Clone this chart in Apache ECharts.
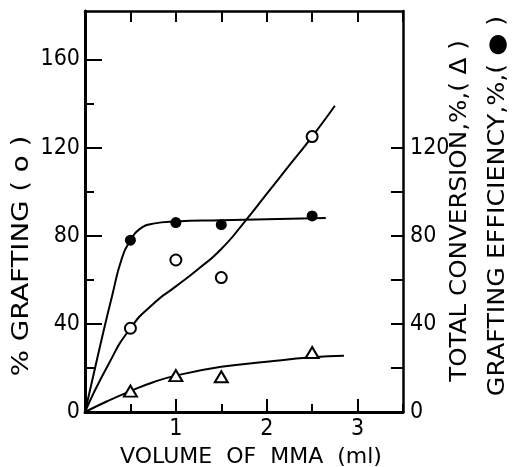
<!DOCTYPE html>
<html>
<head>
<meta charset="utf-8">
<script src="https://cdn.jsdelivr.net/npm/echarts@6/dist/echarts.min.js"></script>
<style>
html, body { margin: 0; padding: 0; background: #fff; }
#main { width: 515px; height: 467px; }
</style>
</head>
<body>
<div id="main"></div>
<script>
// measured points
var volume = [0.5, 1, 1.5, 2.5];
var grafting = [38, 69, 61, 125];
var efficiency = [78, 86, 85, 89];
var conversion = [9.5, 16.5, 16, 27];

// hand drawn fit curves
var graftCurveX = [0, 0.25, 0.5, 0.75, 1, 1.25, 1.5, 1.75, 2, 2.25, 2.5, 2.75];
var graftCurveY = [0, 21, 38, 49, 57, 65, 74, 86, 99, 112, 125, 139];
var effCurveX = [0, 0.1, 0.2, 0.3, 0.4, 0.5, 0.6, 0.75, 1, 1.5, 2, 2.65];
var effCurveY = [0, 18, 36, 53, 69, 78, 83, 85.5, 86.5, 87, 87.5, 88];
var convCurveX = [0, 0.25, 0.5, 0.75, 1, 1.5, 2, 2.5, 2.85];
var convCurveY = [0, 5, 9.5, 13.5, 16.5, 20.5, 22.8, 24.8, 25.5];

// tick labels
var xLabels = [1, 2, 3];
var leftLabels = [0, 40, 80, 120, 160];
var leftMinor = [20, 60, 100, 140];
var rightTicks = [0, 20, 40, 60, 80, 100, 120];
var rightLabels = [0, 40, 80, 120];

function pairs(xs, ys) {
  return xs.map(function (x, i) { return [x, ys[i]]; });
}

var font = '"DejaVu Sans Condensed", "DejaVu Sans"';
var labelStyle = { color: '#000', fontFamily: font, fontSize: 23 };
var black = { color: '#000', width: 2 };

// rotated axis titles, stretched along the baseline like the lettering in the figure
function title(text, x, y, stretch) {
  return {
    type: 'text', x: x, y: y, rotation: Math.PI / 2, scaleX: stretch,
    style: { text: text, fill: '#000', font: '23px "DejaVu Sans"',
      align: 'center', verticalAlign: 'middle', textAlign: 'center', textVerticalAlign: 'middle' }
  };
}

var myChart = echarts.init(document.getElementById('main'), null, { renderer: 'canvas' });

var option = {
  animation: false,
  grid: { left: 85, right: 112, top: 11, bottom: 55, containLabel: false, outerBoundsMode: 'none' },
  xAxis: [
    {
      type: 'value', position: 'bottom', min: 0, max: 3.5, interval: 0.5,
      axisLine: { onZero: false, lineStyle: { color: '#000', width: 3 } },
      axisTick: { inside: true, length: 8, lineStyle: black },
      axisLabel: Object.assign({ customValues: xLabels, margin: 6 }, labelStyle),
      splitLine: { show: false },
      name: 'VOLUME  OF  MMA  (ml)', nameLocation: 'middle', nameGap: 30,
      nameTextStyle: { color: '#000', fontFamily: 'DejaVu Sans', fontSize: 22, padding: [0, 0, 0, 14] }
    },
    {
      type: 'value', position: 'bottom', min: 0, max: 3.5,
      axisLine: { show: false, onZero: false },
      axisTick: { inside: true, length: 13, customValues: xLabels, lineStyle: black },
      axisLabel: { show: false },
      splitLine: { show: false }
    },
    {
      type: 'value', position: 'top', min: 0, max: 3.5, interval: 0.5,
      axisLine: { onZero: false, lineStyle: { color: '#000', width: 2.5 } },
      axisTick: { inside: true, length: 11, lineStyle: black },
      axisLabel: { show: false },
      splitLine: { show: false }
    }
  ],
  yAxis: [
    {
      type: 'value', position: 'left', min: 0, max: 182,
      axisLine: { onZero: false, lineStyle: { color: '#000', width: 3 } },
      axisTick: { inside: true, length: 17, customValues: leftLabels, lineStyle: black },
      axisLabel: Object.assign({ customValues: leftLabels, margin: 5 }, labelStyle),
      splitLine: { show: false }
    },
    {
      type: 'value', position: 'left', min: 0, max: 182,
      axisLine: { show: false, onZero: false },
      axisTick: { inside: true, length: 9, customValues: leftMinor, lineStyle: black },
      axisLabel: { show: false },
      splitLine: { show: false }
    },
    {
      type: 'value', position: 'right', min: 0, max: 182,
      axisLine: { onZero: false, lineStyle: { color: '#000', width: 2.5 } },
      axisTick: { inside: true, length: 12, customValues: rightTicks, lineStyle: black },
      axisLabel: Object.assign({ customValues: rightLabels, margin: 7 }, labelStyle),
      splitLine: { show: false }
    }
  ],
  graphic: [
    title('% GRAFTING ( o )', 22, 256, 1.2),
    title('TOTAL CONVERSION,%,( Δ )', 460, 211, 1.07),
    title('GRAFTING EFFICIENCY,%,( ● )', 498, 206, 1.1)
  ],
  series: [
    {
      type: 'line', data: pairs(graftCurveX, graftCurveY), smooth: 0.6,
      showSymbol: false, lineStyle: black, z: 2
    },
    {
      type: 'line', data: pairs(effCurveX, effCurveY), yAxisIndex: 2, smooth: true,
      showSymbol: false, lineStyle: black, z: 2
    },
    {
      type: 'line', data: pairs(convCurveX, convCurveY), yAxisIndex: 2, smooth: true,
      showSymbol: false, lineStyle: black, z: 2
    },
    {
      type: 'scatter', data: pairs(volume, grafting), symbol: 'circle', symbolSize: 11,
      itemStyle: { color: '#fff', borderColor: '#000', borderWidth: 2, opacity: 1 }, z: 5
    },
    {
      type: 'scatter', data: pairs(volume, efficiency), yAxisIndex: 2, symbol: 'circle', symbolSize: 11,
      itemStyle: { color: '#000', opacity: 1 }, z: 5
    },
    {
      type: 'scatter', data: pairs(volume, conversion), yAxisIndex: 2, symbol: 'triangle', symbolSize: [13, 11],
      itemStyle: { color: '#fff', borderColor: '#000', borderWidth: 2, opacity: 1 }, z: 5
    }
  ]
};

myChart.setOption(option);
</script>
</body>
</html>
